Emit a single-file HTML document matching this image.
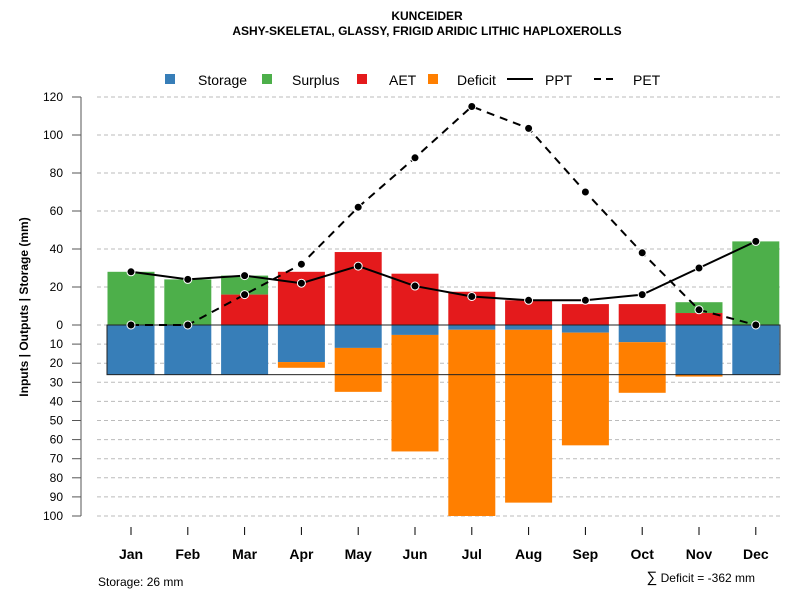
<!DOCTYPE html>
<html><head><meta charset="utf-8"><style>
body{margin:0;background:#fff;}
svg text{font-family:"Liberation Sans",sans-serif;}
</style></head><body>
<svg id="c" width="800" height="600" xmlns="http://www.w3.org/2000/svg">
<text x="427" y="20" text-anchor="middle" font-size="12" font-weight="bold">KUNCEIDER</text>
<text x="427" y="35" text-anchor="middle" font-size="12" font-weight="bold">ASHY-SKELETAL, GLASSY, FRIGID ARIDIC LITHIC HAPLOXEROLLS</text>
<g id="grid"></g><g id="bars"></g><g id="lines"></g><g id="axes"></g>
<g font-size="14">
<rect x="165" y="74" width="10" height="10" fill="#377EB8"/>
<text x="198" y="85">Storage</text>
<rect x="262" y="74" width="10" height="10" fill="#4DAF4A"/>
<text x="292" y="85">Surplus</text>
<rect x="357" y="74" width="10" height="10" fill="#E41A1C"/>
<text x="389" y="85">AET</text>
<rect x="428" y="74" width="10" height="10" fill="#FF7F00"/>
<text x="457" y="85">Deficit</text>
<line x1="507" y1="79" x2="533" y2="79" stroke="#000" stroke-width="2"/>
<text x="545" y="85">PPT</text>
<line x1="594" y1="79" x2="617" y2="79" stroke="#000" stroke-width="2" stroke-dasharray="7,5"/>
<text x="633" y="85">PET</text>
</g>
<text transform="translate(28,307) rotate(-90)" text-anchor="middle" font-size="12" font-weight="bold">Inputs | Outputs | Storage    (mm)</text>
<text x="98" y="586" font-size="12">Storage: 26 mm</text>
<text x="755" y="582" text-anchor="end" font-size="12"><tspan font-size="15">∑</tspan> Deficit = -362 mm</text>
</svg>
<script>
const months=["Jan","Feb","Mar","Apr","May","Jun","Jul","Aug","Sep","Oct","Nov","Dec"];
const ppt=[28,24,26,22,31,20.5,15,13,13,16,30,44];
const pet=[0,0,16,32,62,88,115,103.5,70,38,8,0];
const aet=[0,0,16,28,38.4,27,17.5,13,11,11,6.3,0];
const surplus=[28,24,10,0,0,0,0,0,0,0,5.7,44];
const storage=[26,26,26,19.4,12,5.2,2.5,2.5,4,9,26,26];
const deficit=[0,0,0,3,23,61,97.5,90.5,59,26.5,1,0];
const upTicks=[0,20,40,60,80,100,120];
const downTicks=[10,20,30,40,50,60,70,80,90,100];
const storageMax=26;
const NS="http://www.w3.org/2000/svg";
const y0=325;
const yUp=v=>y0-v*1.9;
const yDn=v=>y0+v*1.91;
const xC=i=>131+i*56.8;
const bw=47;
function mk(tag,attrs,parent){const e=document.createElementNS(NS,tag);for(const k in attrs)e.setAttribute(k,attrs[k]);document.getElementById(parent).appendChild(e);return e;}
upTicks.forEach(t=>{
 const g=mk('line',{x1:97,x2:780,y1:yUp(t),y2:yUp(t),stroke:'#bbb','stroke-dasharray':'4,3'},'grid');
 
 
 const tk=mk('line',{x1:72,x2:81,y1:yUp(t),y2:yUp(t),stroke:'#555'},'axes');
 
 
 const tx=mk('text',{x:63,y:yUp(t)+4,'text-anchor':'end','font-size':12},'axes');tx.textContent=t;
 
 
});
downTicks.forEach(t=>{
 const g=mk('line',{x1:97,x2:780,y1:yDn(t),y2:yDn(t),stroke:'#bbb','stroke-dasharray':'4,3'},'grid');
 
 
 const tk=mk('line',{x1:72,x2:81,y1:yDn(t),y2:yDn(t),stroke:'#555'},'axes');
 
 
 const tx=mk('text',{x:63,y:yDn(t)+4,'text-anchor':'end','font-size':12},'axes');tx.textContent=t;
 
 
});
const ax=mk('line',{x1:81,x2:81,y1:yUp(120),y2:yDn(100),stroke:'#555'},'axes');


months.forEach((m,i)=>{
 const x=xC(i);
 let r=mk('rect',{x:x-bw/2,y:yUp(aet[i]+surplus[i]),width:bw,height:surplus[i]*1.9,fill:'#4DAF4A'},'bars');
 
 
 r=mk('rect',{x:x-bw/2,y:yUp(aet[i]),width:bw,height:aet[i]*1.9,fill:'#E41A1C'},'bars');
 
 
 r=mk('rect',{x:x-bw/2,y:y0,width:bw,height:storage[i]*1.91,fill:'#377EB8'},'bars');
 
 
 r=mk('rect',{x:x-bw/2,y:yDn(storage[i]),width:bw,height:deficit[i]*1.91,fill:'#FF7F00'},'bars');
 
 
 const tk=mk('line',{x1:x,x2:x,y1:527,y2:535,stroke:'#000'},'axes');
 
 
 const tx=mk('text',{x:x,y:559,'text-anchor':'middle','font-size':14,'font-weight':'bold'},'axes');tx.textContent=m;
 
 
});
const box=mk('rect',{x:107,y:y0,width:673,height:storageMax*1.91,fill:'none',stroke:'#222','stroke-width':1},'bars');


function series(vals,dash,name){
 const p=mk('polyline',{points:vals.map((v,i)=>xC(i)+','+yUp(v)).join(' '),fill:'none',stroke:'#000','stroke-width':2,'stroke-dasharray':dash},'lines');
 
 
 vals.forEach((v,i)=>{
  const c=mk('circle',{cx:xC(i),cy:yUp(v),r:4,fill:'#000',stroke:'#fff','stroke-width':1},'lines');
  
  
 });
}
series(pet,'8,6','pet');
series(ppt,'none','ppt');
</script>
</body></html>
